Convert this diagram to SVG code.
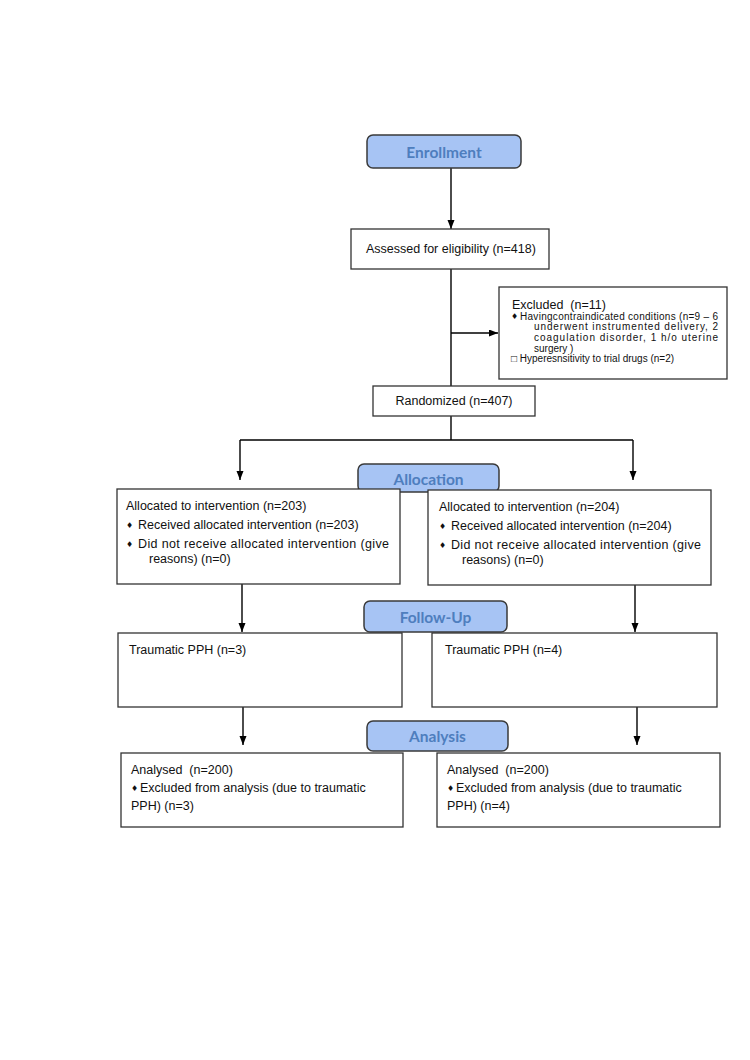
<svg xmlns="http://www.w3.org/2000/svg" width="750" height="1060" viewBox="0 0 750 1060">
<defs>
<marker id="ah" markerUnits="userSpaceOnUse" markerWidth="10" markerHeight="8" refX="9" refY="3.5" orient="auto">
<path d="M0,0 L9,3.5 L0,7 z" fill="#000"/>
</marker>
<style>
.stage{fill:#A7C4F4;stroke:#3a3a3a;stroke-width:1.5}
.box{fill:#fff;stroke:#333;stroke-width:1.3}
.hd{font-family:Lato,"Open Sans",sans-serif;font-weight:bold;font-size:15.5px;fill:#4E7EBE;text-anchor:middle}
.t{font-family:"Liberation Sans",Arial,sans-serif;font-size:12.5px;fill:#111}
.s{font-family:"Liberation Sans",Arial,sans-serif;font-size:10px;fill:#111}
.b{font-family:"DejaVu Sans",sans-serif;font-size:8px;fill:#111}
.c{fill:none;stroke:#000;stroke-width:1.4}
</style>
</defs>
<rect width="750" height="1060" fill="#fff"/>
<g id="connectors">
<path class="c" d="M451,168 V229" marker-end="url(#ah)"/>
<path class="c" d="M451,269 V386"/>
<path class="c" d="M451,333 H498" marker-end="url(#ah)"/>
<path class="c" d="M451,416 V440"/>
<path class="c" d="M240,440 H633"/>
<path class="c" d="M240,440 V480" marker-end="url(#ah)"/>
<path class="c" d="M633,440 V480" marker-end="url(#ah)"/>
<path class="c" d="M242,584 V632" marker-end="url(#ah)"/>
<path class="c" d="M635,585 V632" marker-end="url(#ah)"/>
<path class="c" d="M243,707 V745" marker-end="url(#ah)"/>
<path class="c" d="M637,707 V745" marker-end="url(#ah)"/>
</g>
<g id="enrollment">
<rect class="stage" x="367" y="135" width="154" height="33" rx="6"/>
<text class="hd" x="444" y="158">Enrollment</text>
</g>
<g id="assessed">
<rect class="box" x="351" y="229" width="198" height="40"/>
<text class="t" x="366" y="253">Assessed for eligibility (n=418)</text>
</g>
<g id="excluded">
<rect class="box" x="499" y="287" width="228" height="92"/>
<text class="t" x="512" y="309" xml:space="preserve">Excluded  (n=11)</text>
<text class="b" x="511" y="319">♦</text>
<text class="s" x="520" y="319.5" textLength="198" lengthAdjust="spacing">Havingcontraindicated conditions (n=9 – 6</text>
<text class="s" x="534" y="330.2" textLength="184" lengthAdjust="spacing">underwent instrumented delivery, 2</text>
<text class="s" x="534" y="340.9" textLength="184" lengthAdjust="spacing">coagulation disorder, 1 h/o uterine</text>
<text class="s" x="534" y="351.5">surgery )</text>
<text class="s" x="511" y="362.2">□ Hyperesnsitivity to trial drugs (n=2)</text>
</g>
<g id="randomized">
<rect class="box" x="373" y="386" width="162" height="30"/>
<text class="t" x="454" y="405" text-anchor="middle">Randomized (n=407)</text>
</g>
<g id="allocation">
<rect class="stage" x="358" y="464" width="141" height="28" rx="6"/>
<text class="hd" x="428.5" y="485">Allocation</text>
</g>
<g id="alloc-left">
<rect class="box" x="117" y="489" width="283" height="95"/>
<text class="t" x="126" y="510">Allocated to intervention (n=203)</text>
<text class="b" x="126" y="528">♦</text>
<text class="t" x="138" y="529">Received allocated intervention (n=203)</text>
<text class="b" x="126" y="547">♦</text>
<text class="t" x="138" y="548" textLength="251" lengthAdjust="spacing">Did not receive allocated intervention (give</text>
<text class="t" x="149" y="563">reasons) (n=0)</text>
</g>
<g id="alloc-right">
<rect class="box" x="428" y="490" width="283" height="95"/>
<text class="t" x="439" y="511">Allocated to intervention (n=204)</text>
<text class="b" x="439" y="529">♦</text>
<text class="t" x="451" y="530">Received allocated intervention (n=204)</text>
<text class="b" x="439" y="548">♦</text>
<text class="t" x="451" y="549" textLength="250" lengthAdjust="spacing">Did not receive allocated intervention (give</text>
<text class="t" x="462" y="564">reasons) (n=0)</text>
</g>
<g id="followup">
<rect class="stage" x="364" y="601" width="143" height="31" rx="6"/>
<text class="hd" x="435.5" y="623">Follow-Up</text>
</g>
<g id="trauma-left">
<rect class="box" x="118" y="633" width="284" height="74"/>
<text class="t" x="129" y="654">Traumatic PPH (n=3)</text>
</g>
<g id="trauma-right">
<rect class="box" x="432" y="633" width="285" height="74"/>
<text class="t" x="445" y="654">Traumatic PPH (n=4)</text>
</g>
<g id="analysis">
<rect class="stage" x="367" y="721" width="141" height="30" rx="6"/>
<text class="hd" x="437.5" y="742">Analysis</text>
</g>
<g id="analysed-left">
<rect class="box" x="121" y="753" width="282" height="74"/>
<text class="t" x="131" y="774" xml:space="preserve">Analysed  (n=200)</text>
<text class="b" x="131" y="791">♦</text>
<text class="t" x="140" y="792">Excluded from analysis (due to traumatic</text>
<text class="t" x="131" y="810">PPH) (n=3)</text>
</g>
<g id="analysed-right">
<rect class="box" x="437" y="753" width="283" height="74"/>
<text class="t" x="447" y="774" xml:space="preserve">Analysed  (n=200)</text>
<text class="b" x="447" y="791">♦</text>
<text class="t" x="456" y="792">Excluded from analysis (due to traumatic</text>
<text class="t" x="447" y="810">PPH) (n=4)</text>
</g>
</svg>
